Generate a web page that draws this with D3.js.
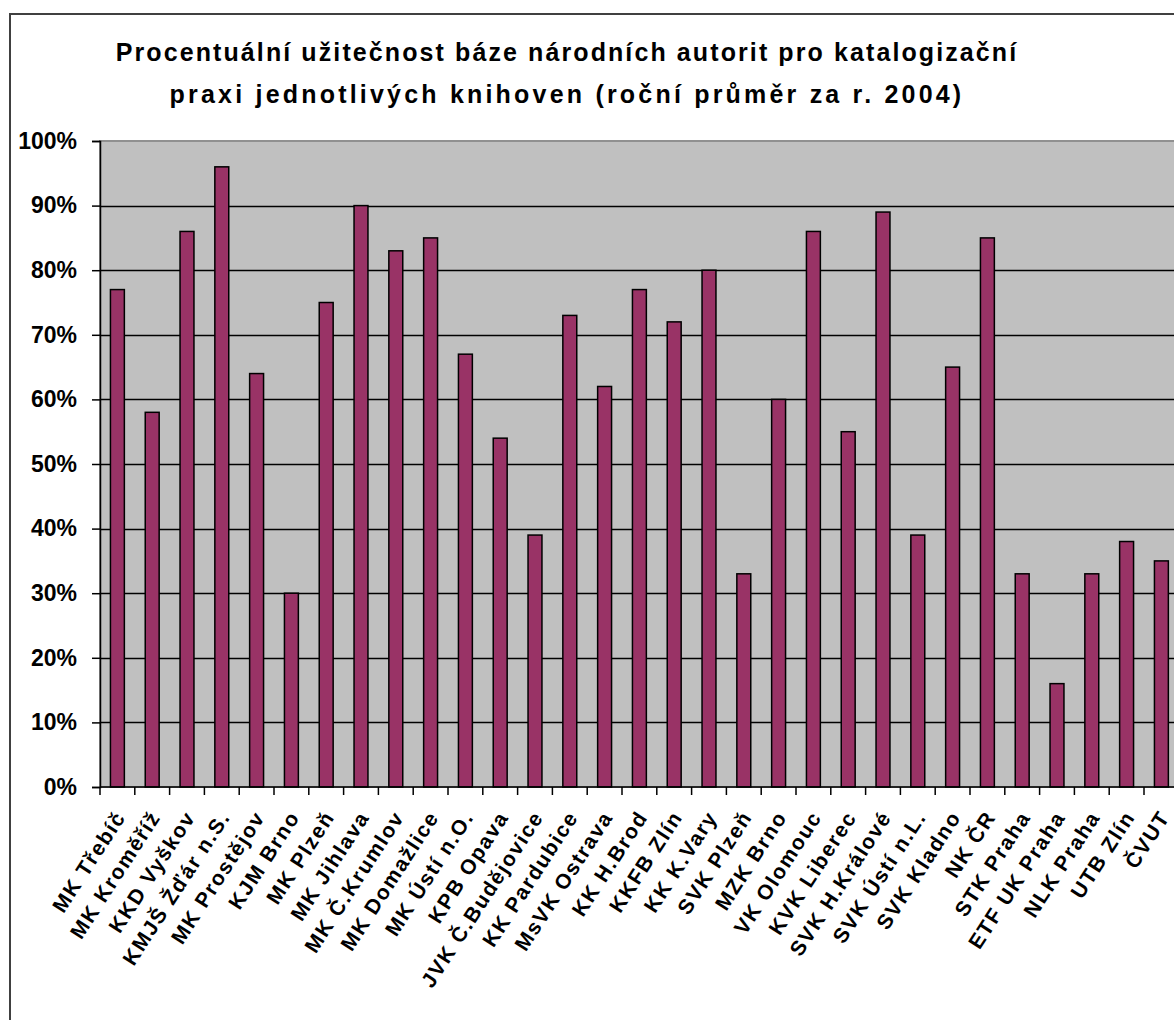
<!DOCTYPE html>
<html>
<head>
<meta charset="utf-8">
<script src="https://cdn.jsdelivr.net/npm/d3@7"></script>
<style>
  body { margin: 0; background: #fff; }
  svg { display: block; }
  text { font-family: "Liberation Sans", Arial, sans-serif; font-weight: bold; }
</style>
</head>
<body>
<svg width="1174" height="1020"></svg>
<script>
const libraries = [
  'MK Třebíč', 'MK Kroměříž', 'KKD Vyškov', 'KMJŠ Žďár n.S.', 'MK Prostějov',
  'KJM Brno', 'MK Plzeň', 'MK Jihlava', 'MK Č.Krumlov', 'MK Domažlice',
  'MK Ústí n.O.', 'KPB Opava', 'JVK Č.Budějovice', 'KK Pardubice', 'MsVK Ostrava',
  'KK H.Brod', 'KKFB Zlín', 'KK K.Vary', 'SVK Plzeň', 'MZK Brno',
  'VK Olomouc', 'KVK Liberec', 'SVK H.Králové', 'SVK Ústí n.L.', 'SVK Kladno',
  'NK ČR', 'STK Praha', 'ETF UK Praha', 'NLK Praha', 'UTB Zlín', 'ČVUT'
];

// procenta (odhad z obrázku)
const usefulness = [
  77, 58, 86, 96, 64,
  30, 75, 90, 83, 85,
  67, 54, 39, 73, 62,
  77, 72, 80, 33, 60,
  86, 55, 89, 39, 65,
  85, 33, 16, 33, 38, 35
];

const yTicks = [0, 10, 20, 30, 40, 50, 60, 70, 80, 90, 100];

const titleLines = [
  'Procentuální užitečnost báze národních autorit pro katalogizační',
  'praxi jednotlivých knihoven (roční průměr za r. 2004)'
];

const svg = d3.select('svg');

// chart frame (cut off on right and bottom like the original)
svg.append('rect')
  .attr('x', 10).attr('y', 14)
  .attr('width', 1300).attr('height', 1100)
  .attr('fill', '#fff')
  .attr('stroke', '#404040')
  .attr('stroke-width', 2);

svg.append('g')
  .selectAll('text')
  .data(titleLines)
  .join('text')
  .attr('x', 567)
  .attr('y', (d, i) => 61 + i * 42)
  .attr('text-anchor', 'middle')
  .attr('font-size', 25)
  .attr('letter-spacing', (d, i) => (i === 0 ? 2.1 : 3.2))
  .text((d) => d);

const plotLeft = 100, plotTop = 141, plotBottom = 787;
const bandW = 34.8;
const plotRight = plotLeft + bandW * libraries.length;

const x = d3.scaleBand()
  .domain(libraries)
  .range([plotLeft, plotRight])
  .paddingInner(0.6)
  .paddingOuter(0.3);

const y = d3.scaleLinear().domain([0, 100]).range([plotBottom, plotTop]);

// plot area
svg.append('rect')
  .attr('x', plotLeft).attr('y', plotTop)
  .attr('width', plotRight - plotLeft).attr('height', plotBottom - plotTop)
  .attr('fill', '#c0c0c0')
  .attr('stroke', '#909090')
  .attr('stroke-width', 2);

svg.append('g')
  .selectAll('line')
  .data(yTicks.filter((t) => t > 0 && t < 100))
  .join('line')
  .attr('x1', plotLeft).attr('x2', plotRight)
  .attr('y1', (d) => Math.round(y(d)) + 0.5)
  .attr('y2', (d) => Math.round(y(d)) + 0.5)
  .attr('stroke', '#000')
  .attr('stroke-width', 1.5);

svg.append('g')
  .selectAll('rect')
  .data(usefulness)
  .join('rect')
  .attr('x', (d, i) => x(libraries[i]))
  .attr('y', (d) => y(d))
  .attr('width', x.bandwidth())
  .attr('height', (d) => plotBottom - y(d))
  .attr('fill', '#993366')
  .attr('stroke', '#000')
  .attr('stroke-width', 1.5);

// y axis
const yAxis = svg.append('g')
  .attr('transform', `translate(${plotLeft},0)`)
  .call(d3.axisLeft(y).tickValues(yTicks).tickSize(8).tickFormat((d) => d + '%'));
yAxis.select('.domain').attr('stroke', '#000').attr('stroke-width', 1.5);
yAxis.selectAll('.tick line').attr('stroke-width', 1.5);
yAxis.selectAll('.tick text')
  .attr('x', -23)
  .attr('font-size', 23)
  .attr('fill', '#000');

// x axis: ticks at category boundaries
const xEdges = d3.range(libraries.length + 1).map((i) => plotLeft + i * bandW);
svg.append('line')
  .attr('x1', plotLeft).attr('x2', plotRight)
  .attr('y1', plotBottom).attr('y2', plotBottom)
  .attr('stroke', '#000').attr('stroke-width', 1.5);
svg.append('g')
  .selectAll('line')
  .data(xEdges)
  .join('line')
  .attr('x1', (d) => d).attr('x2', (d) => d)
  .attr('y1', plotBottom).attr('y2', plotBottom + 8)
  .attr('stroke', '#000').attr('stroke-width', 1.5);

svg.append('g')
  .selectAll('text')
  .data(libraries)
  .join('text')
  .attr('transform', (d) => `translate(${x(d) + x.bandwidth() / 2 + 3},${plotBottom + 26}) rotate(-57)`)
  .attr('text-anchor', 'end')
  .attr('font-size', 21)
  .attr('letter-spacing', 1.6)
  .attr('dy', '0.35em')
  .text((d) => d);
</script>
</body>
</html>
